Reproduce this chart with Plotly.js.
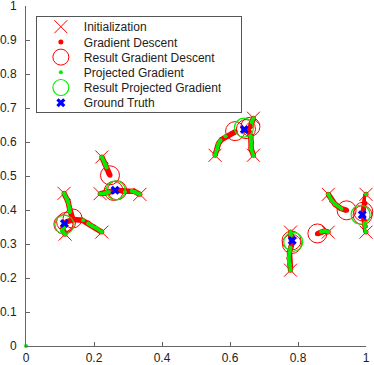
<!DOCTYPE html>
<html>
<head>
<meta charset="utf-8">
<script src="https://cdn.plot.ly/plotly-3.0.1.min.js"></script>
<style>
  html, body { margin: 0; padding: 0; background: #fff; }
  #plot { width: 374px; height: 365px; }
</style>
</head>
<body>
<div id="plot"></div>
<script>
// starting points (15 runs, 3 per ground truth)
const initX = [0.112, 0.115, 0.223, 0.223, 0.218, 0.335, 0.556, 0.669, 0.669, 0.889, 1.0, 1.0, 0.778, 0.778, 0.889];
const initY = [0.449, 0.329, 0.335, 0.556, 0.448, 0.446, 0.561, 0.561, 0.67, 0.446, 0.446, 0.335, 0.335, 0.223, 0.335];

// gradient descent paths, runs separated by null
const gdPathX = [0.112, 0.124, 0.128, 0.133, 0.137, null,
                 0.115, 0.108, 0.11, null,
                 0.223, 0.2, 0.183, 0.165, 0.14, 0.118, null,
                 0.223, 0.232, 0.237, 0.242, 0.247, null,
                 0.218, 0.232, 0.245, 0.258, null,
                 0.335, 0.318, 0.3, 0.285, 0.268, null,
                 0.556, 0.561, 0.566, 0.575, 0.59, 0.605, 0.615, null,
                 0.669, 0.662, 0.662, 0.661, 0.655, 0.647, null,
                 0.669, 0.664, 0.66, null,
                 0.889, 0.899, 0.909, 0.925, 0.943, null,
                 1.0, 0.997, 0.992, null,
                 1.0, 0.998, 0.995, 0.99, null,
                 0.778, 0.779, 0.781, null,
                 0.778, 0.776, 0.773, 0.775, 0.779, 0.782, null,
                 0.889, 0.878, 0.867, 0.857];
const gdPathY = [0.449, 0.424, 0.405, 0.385, 0.375, null,
                 0.329, 0.342, 0.355, null,
                 0.335, 0.35, 0.362, 0.37, 0.372, 0.365, null,
                 0.556, 0.536, 0.522, 0.51, 0.502, null,
                 0.448, 0.449, 0.453, 0.456, null,
                 0.446, 0.455, 0.455, 0.455, 0.458, null,
                 0.561, 0.578, 0.595, 0.607, 0.617, 0.625, 0.63, null,
                 0.561, 0.58, 0.6, 0.617, 0.633, 0.638, null,
                 0.67, 0.658, 0.645, null,
                 0.446, 0.428, 0.417, 0.405, 0.399, null,
                 0.446, 0.42, 0.395, null,
                 0.335, 0.352, 0.37, 0.385, null,
                 0.335, 0.322, 0.31, null,
                 0.223, 0.24, 0.258, 0.275, 0.29, 0.3, null,
                 0.335, 0.338, 0.334, 0.33];

// end points of gradient descent
const gdResX = [0.137, 0.11, 0.118, 0.247, 0.258, 0.268, 0.615, 0.647, 0.66, 0.943, 0.992, 0.99, 0.781, 0.782, 0.857];
const gdResY = [0.375, 0.358, 0.365, 0.502, 0.456, 0.458, 0.632, 0.638, 0.645, 0.399, 0.395, 0.385, 0.31, 0.3, 0.331];

// projected gradient paths
const pgPathX = [0.112, 0.12, 0.124, 0.128, 0.129, null,
                 0.115, 0.106, 0.112, null,
                 0.223, 0.208, 0.195, 0.183, null, 0.168, null,
                 0.223, 0.232, 0.237, null,
                 0.218, 0.232, 0.244, null,
                 0.335, 0.321, 0.311, null, 0.291, null,
                 0.556, 0.561, 0.566, 0.572, null, 0.587, null,
                 0.669, 0.662, 0.662, 0.661, null,
                 0.669, 0.664, null,
                 0.889, 0.899, 0.909, 0.928, null,
                 1.0, null,
                 1.0, 0.998, 0.996, null,
                 0.778, 0.779, null,
                 0.778, 0.776, 0.773, 0.775, 0.778, null,
                 0.889, 0.879, 0.868, null,
                 0];
const pgPathY = [0.449, 0.432, 0.424, 0.405, 0.394, null,
                 0.329, 0.34, 0.35, null,
                 0.335, 0.346, 0.352, 0.36, null, 0.37, null,
                 0.556, 0.536, 0.525, null,
                 0.448, 0.449, 0.453, null,
                 0.446, 0.453, 0.456, null, 0.453, null,
                 0.561, 0.578, 0.595, 0.605, null, 0.617, null,
                 0.561, 0.58, 0.6, 0.617, null,
                 0.67, 0.658, null,
                 0.446, 0.428, 0.417, 0.404, null,
                 0.446, null,
                 0.335, 0.352, 0.362, null,
                 0.335, 0.325, null,
                 0.223, 0.24, 0.258, 0.275, 0.29, null,
                 0.335, 0.338, 0.336, null,
                 0];

// end points of projected gradient
const pgResX = [0.113, 0.264, 0.641, 0.984, 0.786];
const pgResY = [0.357, 0.458, 0.642, 0.386, 0.306];

// ground truth
const gtX = [0.113, 0.262, 0.642, 0.989, 0.783];
const gtY = [0.36, 0.458, 0.637, 0.386, 0.31];

// ticks
const xTicks = [0, 0.2, 0.4, 0.6, 0.8, 1];
const xTickText = ['0', '0.2', '0.4', '0.6', '0.8', '1'];
const yTicks = [0, 0.1, 0.2, 0.3, 0.4, 0.5, 0.6, 0.7, 0.8, 0.9, 1];
const yTickText = ['0', '0.1', '0.2', '0.3', '0.4', '0.5', '0.6', '0.7', '0.8', '0.9', '1'];

const RED = '#ff0000';
const GREEN = '#00ee00';
const BLUE = '#0000ff';

const traces = [
    {
        x: initX, y: initY, name: 'Initialization',
        mode: 'markers', type: 'scatter', cliponaxis: false,
        marker: {symbol: 'x-thin-open', size: 13, color: RED, line: {color: RED, width: 1}}
    },
    {
        x: gdPathX, y: gdPathY, showlegend: false, hoverinfo: 'skip',
        mode: 'lines', type: 'scatter', cliponaxis: false,
        line: {color: RED, width: 5.5}
    },
    {
        x: gdPathX, y: gdPathY, name: 'Gradient Descent',
        mode: 'markers', type: 'scatter', cliponaxis: false,
        marker: {symbol: 'circle', size: 5, color: RED}
    },
    {
        x: gdResX, y: gdResY, name: 'Result Gradient Descent',
        mode: 'markers', type: 'scatter', cliponaxis: false,
        marker: {symbol: 'circle-open', size: 19, color: RED, line: {color: RED, width: 1}}
    },
    {
        x: pgPathX, y: pgPathY, showlegend: false, hoverinfo: 'skip',
        mode: 'lines', type: 'scatter', cliponaxis: false,
        line: {color: GREEN, width: 3.5}
    },
    {
        x: pgPathX, y: pgPathY, name: 'Projected Gradient',
        mode: 'markers', type: 'scatter', cliponaxis: false,
        marker: {symbol: 'circle', size: 4, color: GREEN}
    },
    {
        x: pgResX, y: pgResY, name: 'Result Projected Gradient',
        mode: 'markers', type: 'scatter', cliponaxis: false,
        marker: {symbol: 'circle-open', size: 19, color: GREEN, line: {color: GREEN, width: 1.2}}
    },
    {
        x: gtX, y: gtY, name: 'Ground Truth',
        mode: 'markers', type: 'scatter', cliponaxis: false,
        marker: {symbol: 'x', size: 8, color: BLUE}
    }
];

const axisStyle = {
    range: [0, 1],
    showgrid: false,
    zeroline: false,
    showline: true,
    linecolor: '#666',
    linewidth: 1,
    ticks: 'inside',
    ticklen: 4,
    tickcolor: '#666',
    tickfont: {size: 12, color: '#222'},
    tickmode: 'array',
    ticklabeloverflow: 'allow',
    fixedrange: true
};

const layout = {
    width: 374,
    height: 365,
    margin: {l: 26, r: 8, t: 6, b: 19},
    paper_bgcolor: '#fff',
    plot_bgcolor: '#fff',
    font: {family: '"Liberation Sans", Arial, sans-serif', size: 12, color: '#222'},
    xaxis: Object.assign({}, axisStyle, {tickvals: xTicks, ticktext: xTickText, ticklabelstandoff: 1}),
    yaxis: Object.assign({}, axisStyle, {tickvals: yTicks, ticktext: yTickText, ticklabelstandoff: 6}),
    showlegend: true,
    legend: {
        x: 0.029, y: 0.97, xanchor: 'left', yanchor: 'top',
        bgcolor: '#fff', bordercolor: '#555', borderwidth: 1,
        font: {size: 12, color: '#222'},
        tracegroupgap: 0
    }
};

Plotly.newPlot('plot', traces, layout, {displayModeBar: false, staticPlot: true}).then(function(gd) {
    // plotly keeps legend rows at least 19px tall, the reference packs them tighter
    const ROW = 15.2;
    const leg = gd.querySelector('.legend');
    if (!leg) return;
    leg.querySelectorAll('.traces').forEach(function(g, i) {
        g.setAttribute('transform', 'translate(1,' + (10.5 + i * ROW) + ')');
        const txt = g.querySelector('text.legendtext');
        if (txt) txt.setAttribute('x', 47);
        const sym = g.querySelector('.legendpoints');
        if (sym) sym.setAttribute('transform', 'translate(4,0)');
    });
    const bg = leg.querySelector('rect.bg');
    if (bg) {
        bg.setAttribute('height', 96);
        bg.setAttribute('width', 205);
    }
});
</script>
</body>
</html>
